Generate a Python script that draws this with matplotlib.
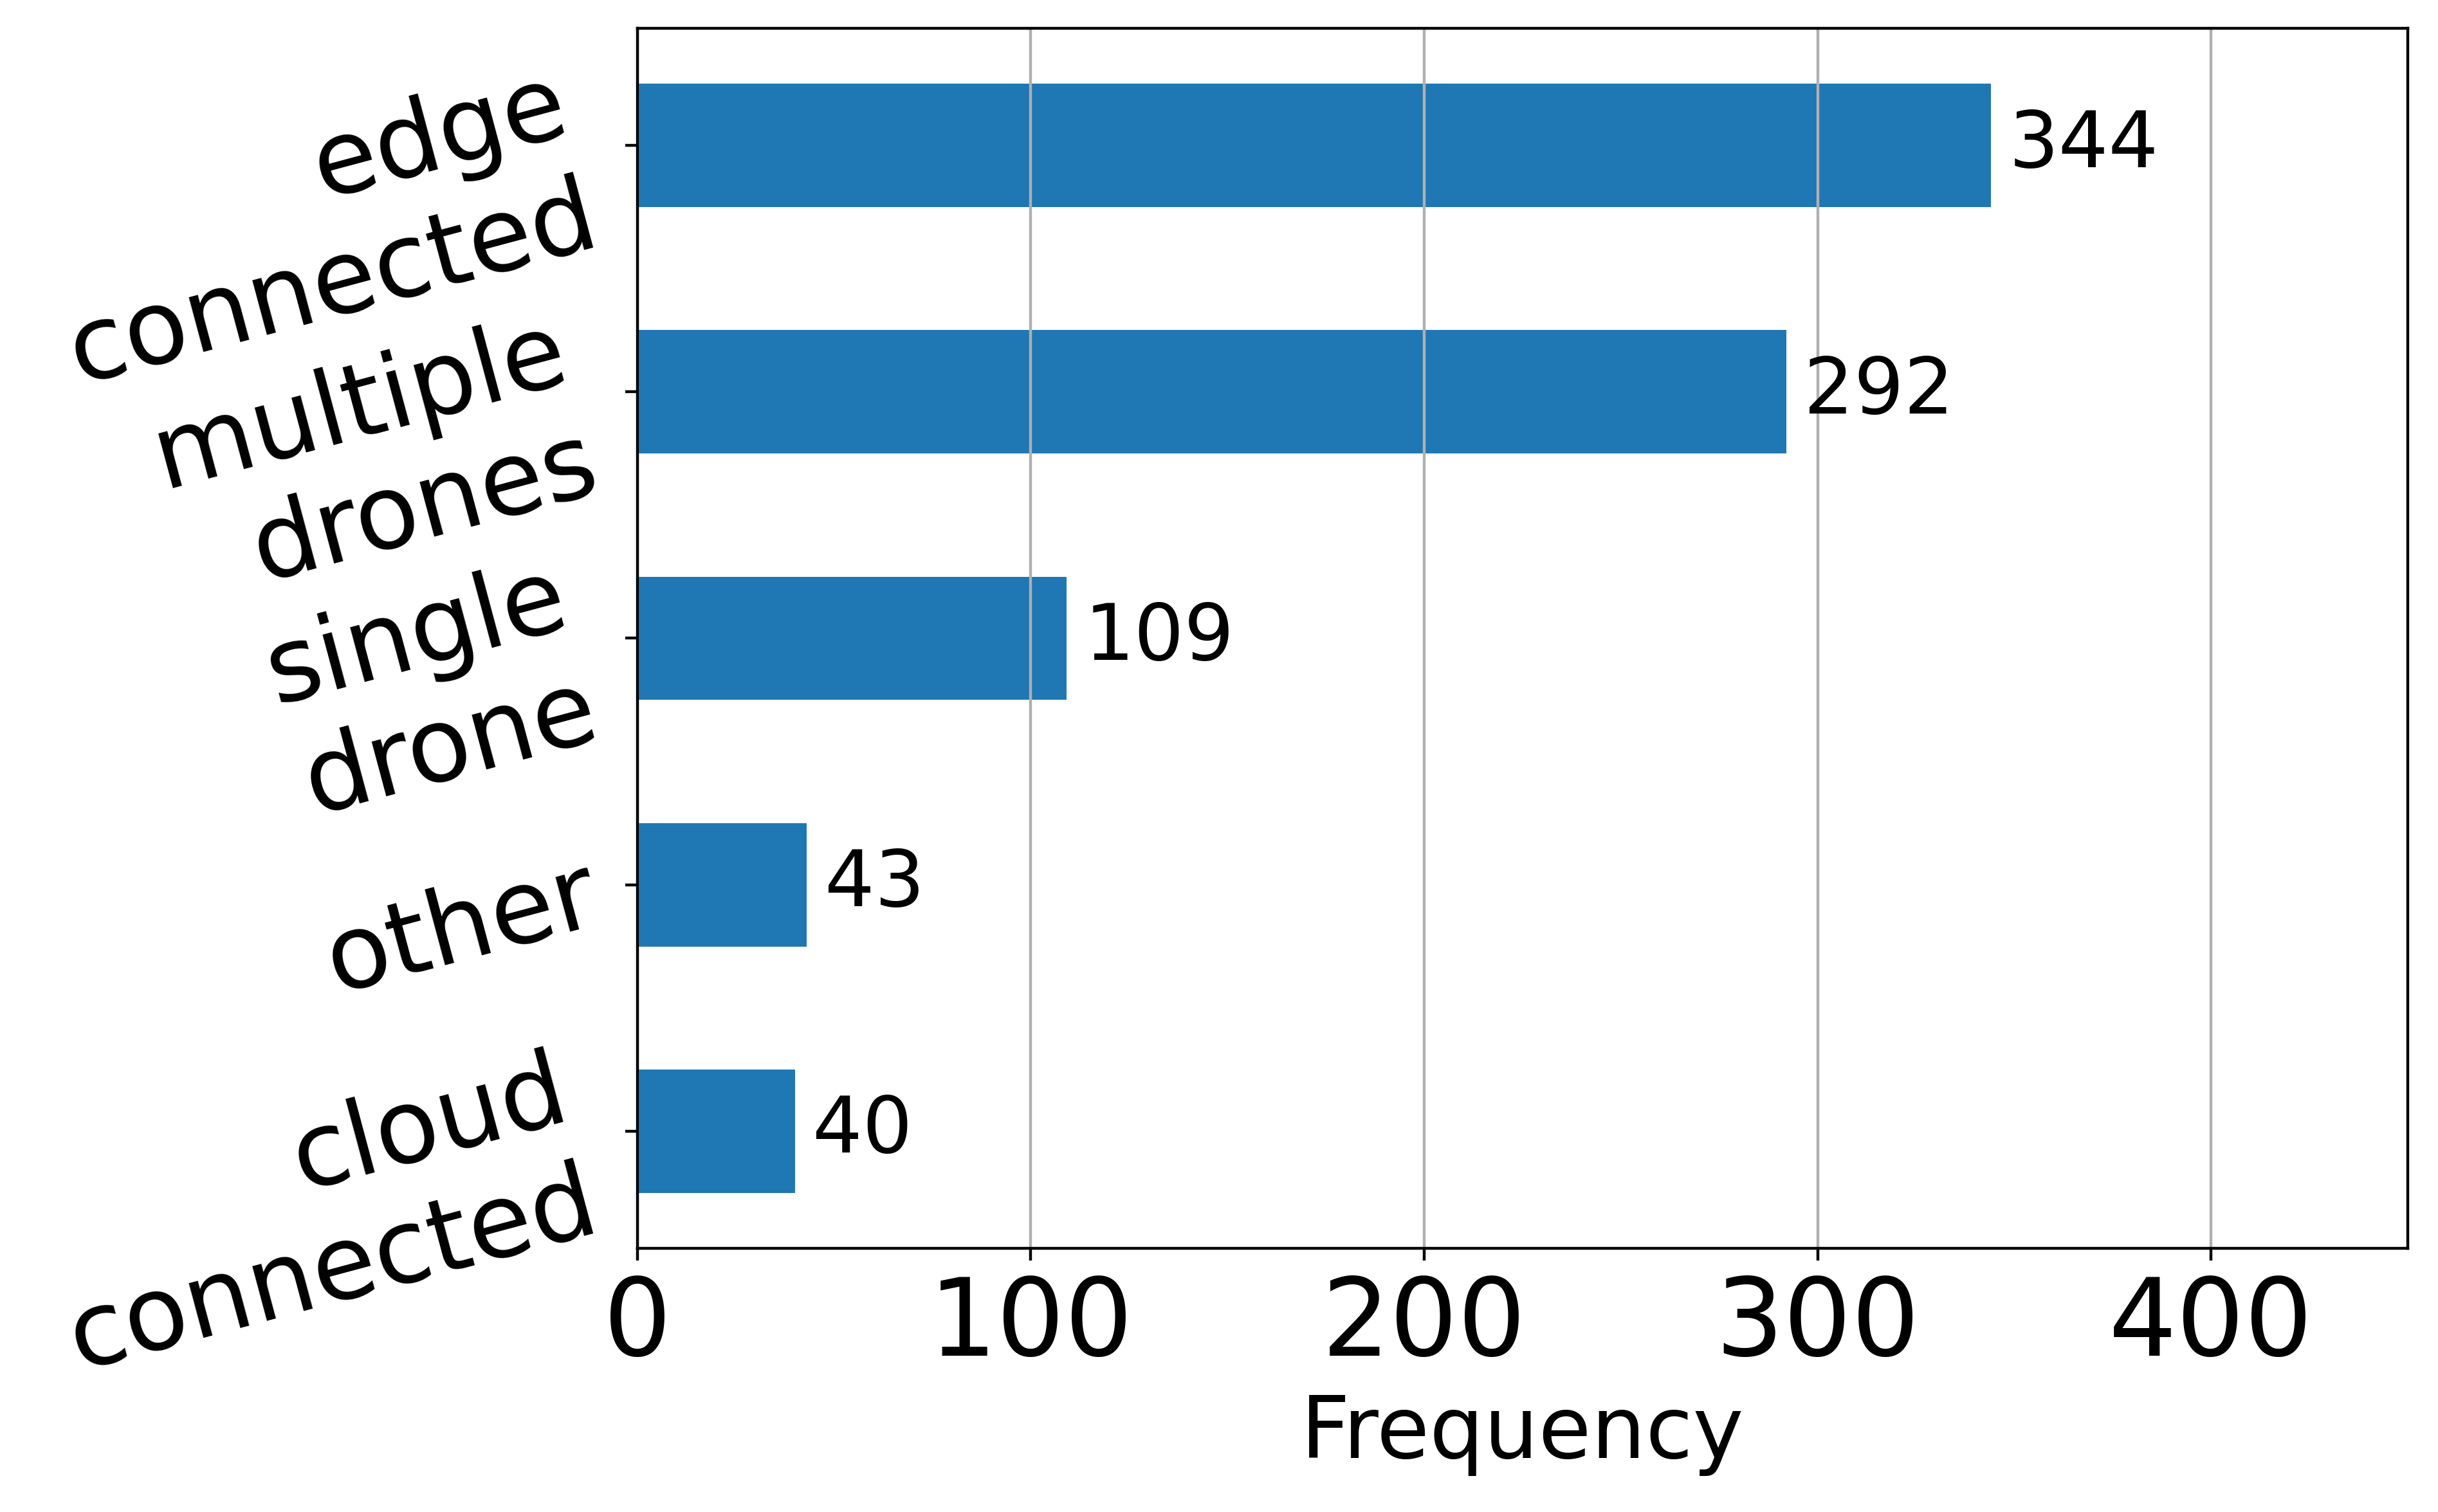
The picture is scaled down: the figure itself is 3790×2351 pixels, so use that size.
import matplotlib
matplotlib.use("Agg")
import matplotlib.pyplot as plt

# categories, bottom to top
categories = ["cloud\nconnected", "other", "single\ndrone", "multiple\ndrones", "edge\nconnected"]
counts = [40, 43, 109, 292, 344]

fig, ax = plt.subplots(figsize=(3791 / 400, 2351 / 400), dpi=400)
fig.subplots_adjust(left=0.2614, right=0.9873, top=0.9813, bottom=0.1744)

bars = ax.barh(categories, counts, height=0.5, color="#1f77b4")
ax.bar_label(bars, padding=5, fontsize=22)

ax.set_xlim(0, 450)
ax.set_xticks([0, 100, 200, 300, 400])
ax.tick_params(axis="x", labelsize=30)
ax.tick_params(axis="y", labelsize=29, pad=4.8)
plt.setp(ax.get_yticklabels(), rotation=15)
ax.set_xlabel("Frequency", fontsize=24)
ax.grid(axis="x")

fig.savefig("out.png", dpi=400)
